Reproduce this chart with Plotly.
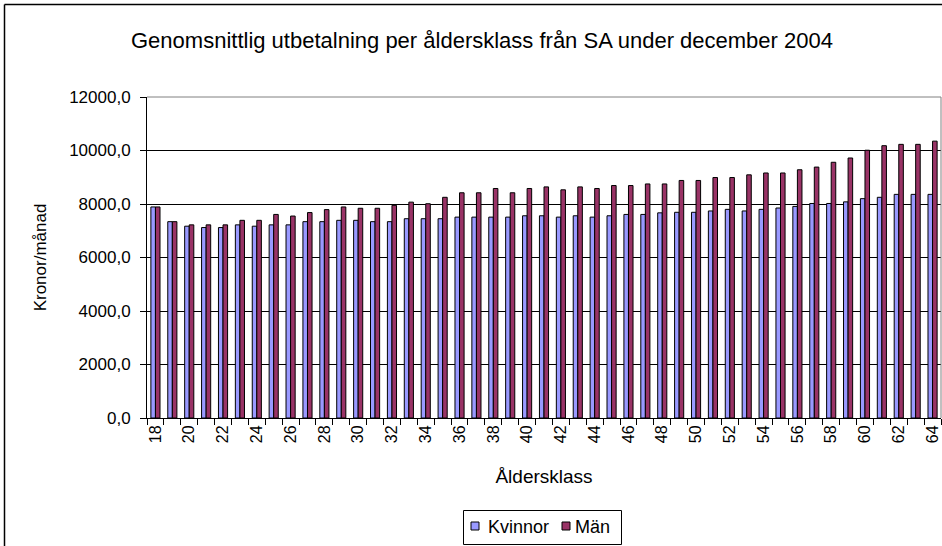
import plotly.graph_objects as go

ages = list(range(18, 65))
kvinnor = [7890, 7340, 7170, 7120, 7120, 7220, 7170, 7220, 7220, 7340,
           7340, 7390, 7390, 7340, 7340, 7450, 7450, 7450, 7510, 7510,
           7510, 7510, 7560, 7560, 7510, 7560, 7510, 7560, 7610, 7610,
           7670, 7690, 7690, 7740, 7800, 7740, 7800, 7850, 7910, 8020,
           8020, 8080, 8200, 8250, 8360, 8360, 8360]
man = [7890, 7340, 7220, 7220, 7220, 7390, 7390, 7610, 7550, 7680,
       7790, 7890, 7840, 7840, 7950, 8070, 8010, 8250, 8420, 8420,
       8580, 8420, 8580, 8640, 8530, 8640, 8580, 8690, 8690, 8750,
       8750, 8880, 8880, 8990, 8990, 9090, 9160, 9160, 9280, 9380,
       9560, 9720, 10010, 10180, 10230, 10230, 10350]
y_ticks = [0, 2000, 4000, 6000, 8000, 10000, 12000]
x_ticks = list(range(18, 65, 2))
series_names = ["Kvinnor", "Män"]
series_colors = ["#9999FF", "#993366"]

FONT = "Liberation Sans, Arial, sans-serif"

fig = go.Figure()
for name, vals, col in zip(series_names, [kvinnor, man], series_colors):
    fig.add_trace(go.Bar(x=ages, y=vals, name=name, showlegend=False,
                         marker=dict(color=col, line=dict(color="#000000", width=1))))

W, H = 942, 546
L, R, T, B = 147, 1, 97, 128
pw = W - L - R
ph = H - T - B

def px(x):
    return (x - L) / pw

def py(y):
    return (H - B - y) / ph

fig.update_layout(
    width=W, height=H,
    margin=dict(l=L, r=R, t=T, b=B, pad=0),
    paper_bgcolor="white", plot_bgcolor="white",
    font=dict(family=FONT, color="#000000", size=13),
    separators=",.",
    barmode="group", bargap=0.46, bargroupgap=0,
    title=dict(text="Genomsnittlig utbetalning per åldersklass från SA under december 2004",
               x=482 / W, xanchor="center", xref="container",
               y=1 - 40 / H, yanchor="middle", yref="container",
               font=dict(family=FONT, size=22, color="#000000")),
    xaxis=dict(
        range=[17.5, 64.5], tickvals=x_ticks, ticktext=[str(v) for v in x_ticks],
        tickangle=-90, ticks="", showgrid=False, zeroline=False,
        showline=True, linecolor="#000000", linewidth=1,
        tickfont=dict(family=FONT, size=16),
        minor=dict(tick0=17.5, dtick=1, ticks="outside", ticklen=6,
                   tickcolor="#000000", showgrid=False),
        title=dict(text="Åldersklass", font=dict(family=FONT, size=19), standoff=27),
    ),
    yaxis=dict(
        range=[0, 12000], tickvals=y_ticks, tickformat=".1f",
        ticks="outside", ticklen=6, tickcolor="#000000",
        ticklabelstandoff=6,
        showgrid=True, gridcolor="#000000", gridwidth=1,
        zeroline=False, showline=True, linecolor="#000000", linewidth=1,
        tickfont=dict(family=FONT, size=17),
        title=dict(text="Kronor/månad", font=dict(family=FONT, size=17), standoff=18),
    ),
    showlegend=False,
)

# plot area border (grey top/right)
fig.add_shape(type="line", xref="paper", yref="paper", x0=0, x1=1, y0=1, y1=1,
              line=dict(color="#808080", width=1))
fig.add_shape(type="line", xref="paper", yref="paper", x0=1, x1=1, y0=0, y1=1,
              line=dict(color="#808080", width=1))
# outer chart border (black, left and top)
fig.add_shape(type="line", xref="paper", yref="paper", x0=px(4.5), x1=px(W + 5),
              y0=py(4.5), y1=py(4.5), line=dict(color="#000000", width=1.5))
fig.add_shape(type="line", xref="paper", yref="paper", x0=px(4.5), x1=px(4.5),
              y0=py(4.5), y1=py(H + 5), line=dict(color="#000000", width=1.5))

# legend box (Excel style)
fig.add_shape(type="rect", xref="paper", yref="paper",
              x0=px(463.5), x1=px(621.5), y0=py(510.5), y1=py(544.5),
              line=dict(color="#000000", width=1), fillcolor="white")
legend_items = [(471, 488), (562, 575)]
for (sx, tx), name, col in zip(legend_items, series_names, series_colors):
    fig.add_shape(type="rect", xref="paper", yref="paper",
                  x0=px(sx), x1=px(sx + 8), y0=py(522), y1=py(530),
                  line=dict(color="#000000", width=1), fillcolor=col)
    fig.add_annotation(text=name, xref="paper", yref="paper", x=px(tx - 2), y=py(526.5),
                       xanchor="left", yanchor="middle", showarrow=False,
                       font=dict(family=FONT, size=18, color="#000000"))

fig.write_html("out.html", config={"displayModeBar": False},
               post_script="document.body.style.margin='0';document.body.style.overflow='hidden';")
